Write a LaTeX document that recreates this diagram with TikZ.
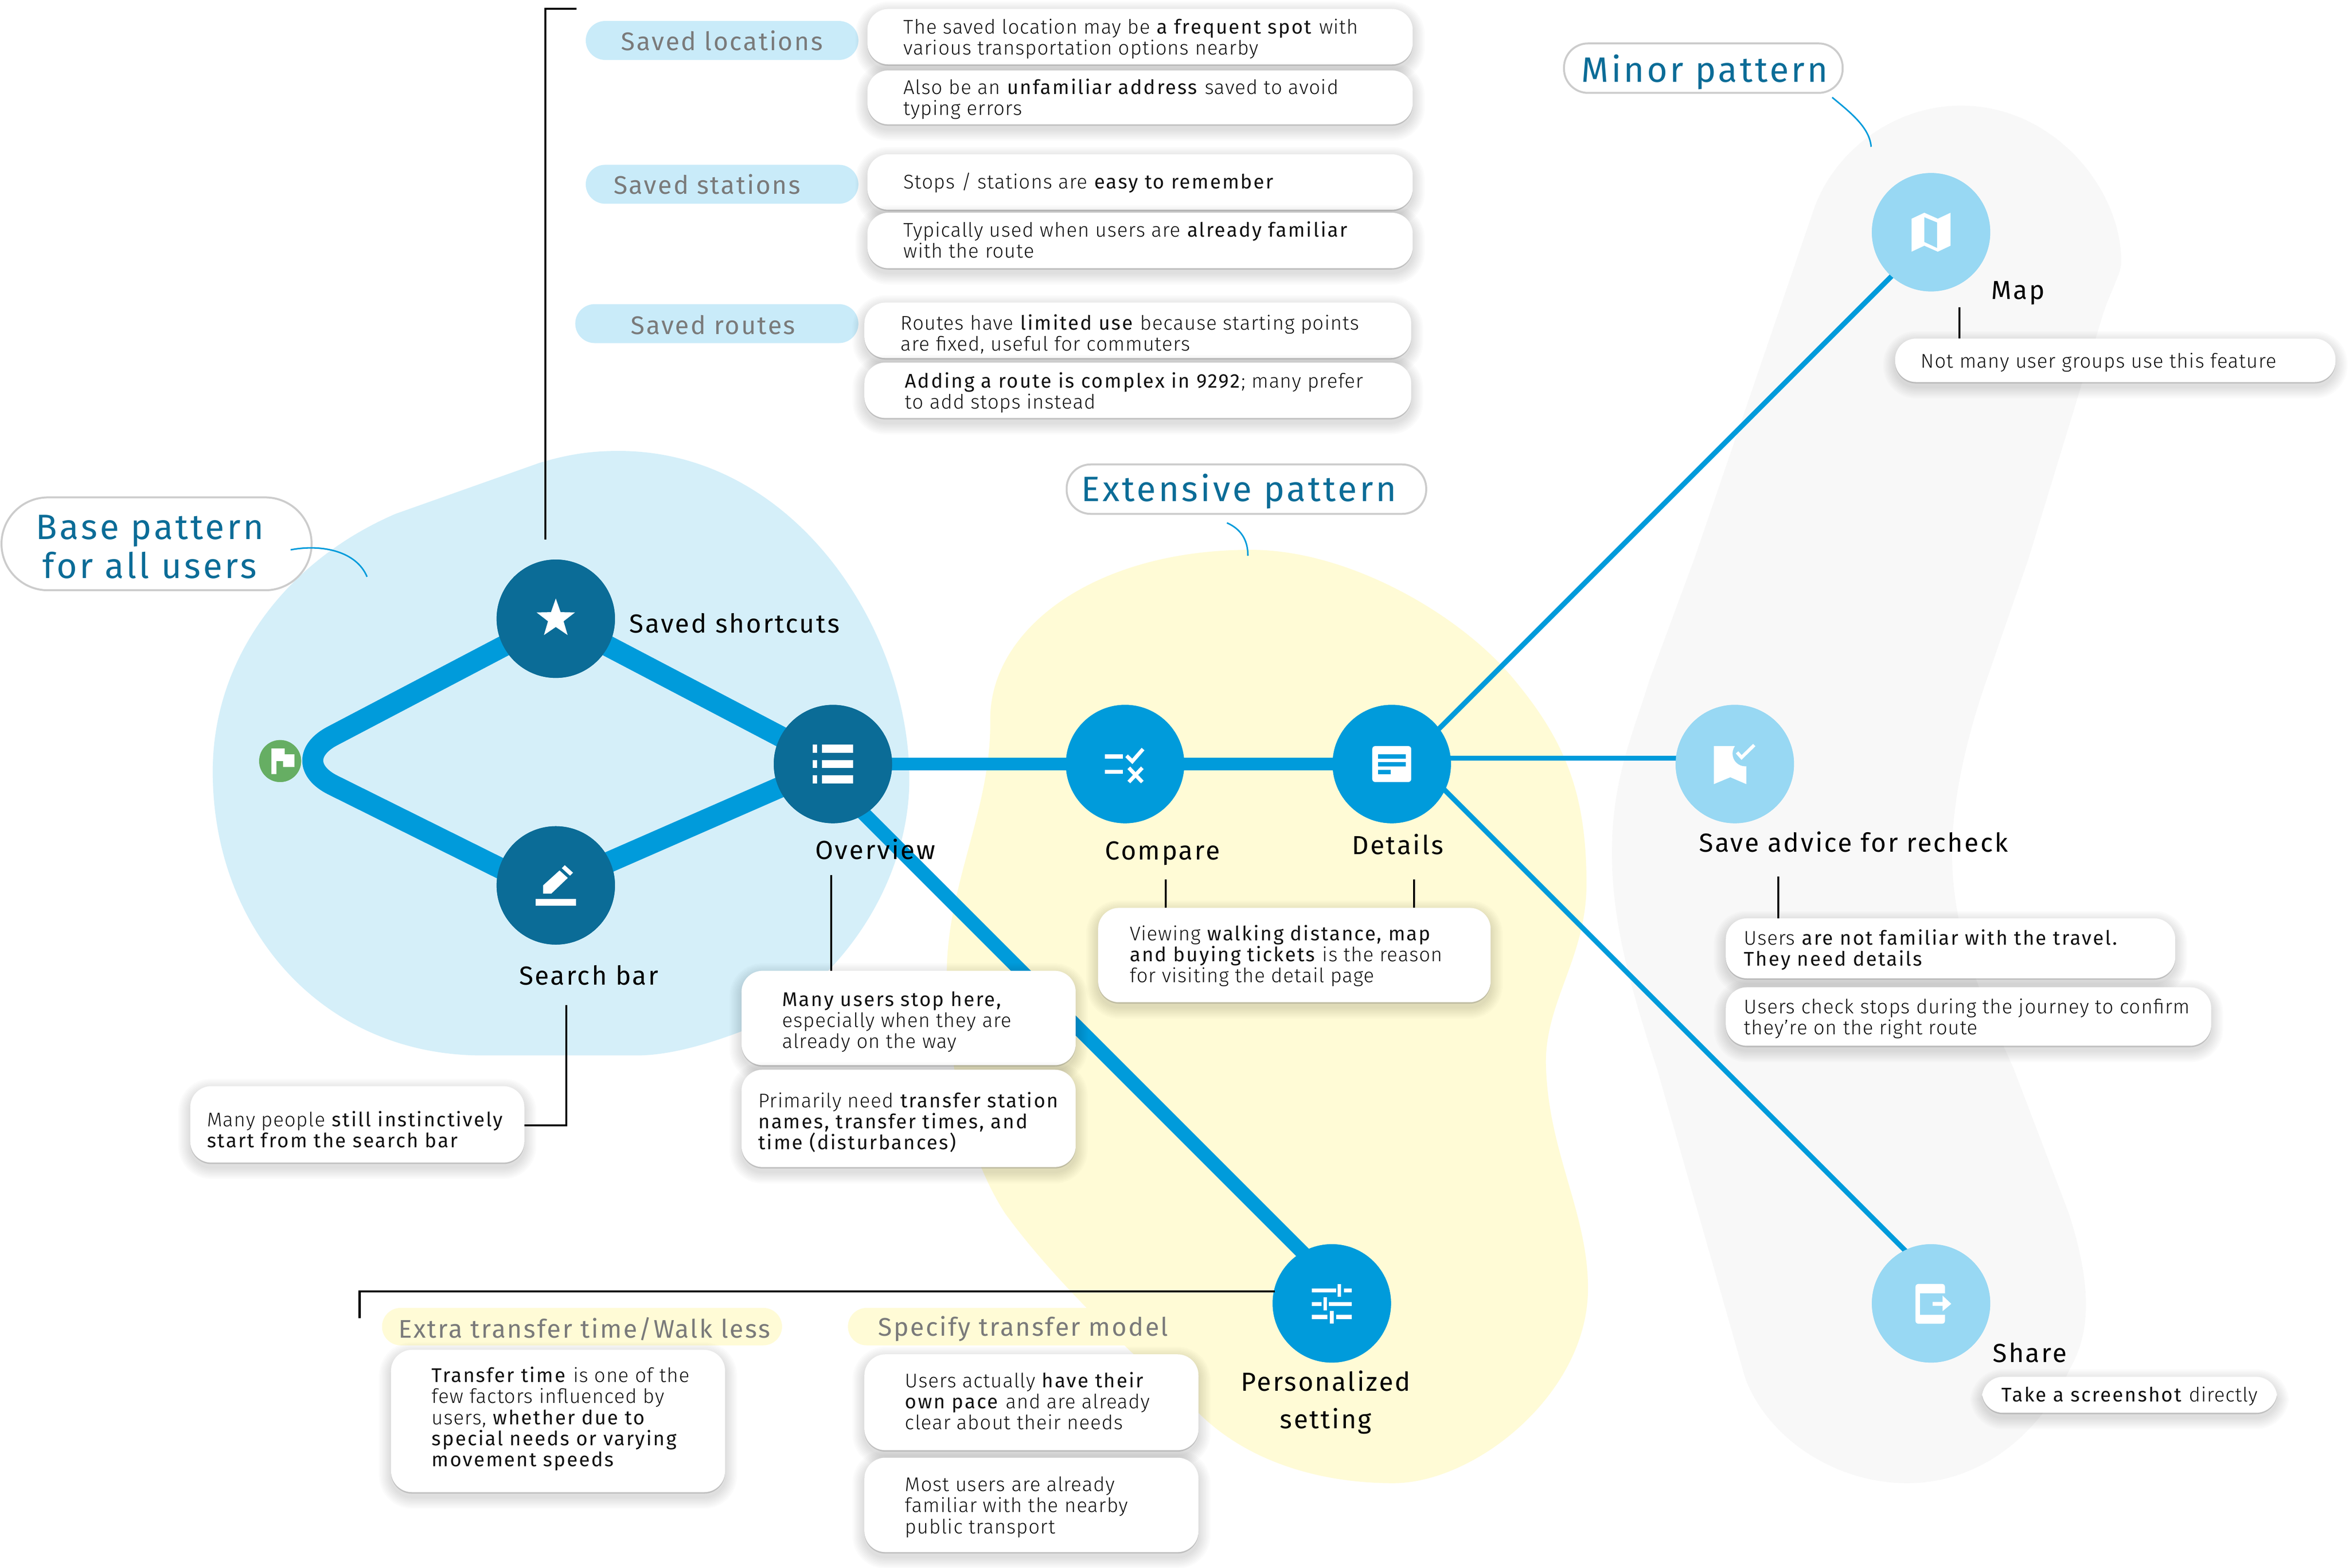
\documentclass[tikz,border=0pt]{standalone}
\usepackage{fontspec}
\setmainfont{Fira Sans Light}[BoldFont={Fira Sans},LetterSpace=3,BoldFeatures={LetterSpace=7}]
\newfontfamily\labfam{Fira Sans}[LetterSpace=6.5]
\newfontfamily\pillfam{Fira Sans}[LetterSpace=6]
\newfontfamily\headfam{Fira Sans}[LetterSpace=7]
\usetikzlibrary{shadows,calc}
\definecolor{cdark}{HTML}{0B6C97}
\definecolor{cblue}{HTML}{009BDB}
\definecolor{clight}{HTML}{98D8F3}
\definecolor{cblob}{HTML}{D5EFF9}
\definecolor{cyel}{HTML}{FFFBD6}
\definecolor{cgray}{HTML}{F8F8F8}
\definecolor{cpill}{HTML}{C9EBF9}
\definecolor{cpilltxt}{HTML}{7A7A7A}
\definecolor{cflag}{HTML}{66AE63}
\definecolor{ctext}{HTML}{111111}
\tikzset{
  x=1pt,y=-1pt,
  bignode/.style={circle,minimum size=79pt,inner sep=0,outer sep=0},
  basenode/.style={bignode,fill=cdark},
  extnode/.style={bignode,fill=cblue},
  minornode/.style={bignode,fill=clight},
  thickline/.style={cblue,line width=14pt},
  midline/.style={cblue,line width=8.5pt},
  thinline/.style={cblue,line width=3.4pt},
  leader/.style={black,line width=1.3pt},
  callcurve/.style={cblue,line width=1pt},
  cardbox/.style={fill=white,inner sep=0,outer sep=0,
    drop shadow={shadow xshift=0pt,shadow yshift=-1pt,opacity=.25,fill=black!60}},
  cardtext/.style={anchor=west,align=left,inner sep=0,text=ctext,font=\fontsize{13.2}{14}\selectfont},
  nodelabel/.style={inner sep=0,text=black,align=center,font=\labfam\fontsize{17.4}{25}\selectfont},
  pillbox/.style={inner sep=0,outer sep=0},
  pilltext/.style={inner sep=0,text=cpilltxt,font=\pillfam\fontsize{17}{20}\selectfont},
  headbox/.style={draw=black!20,line width=1.3pt,fill=white,inner sep=0,outer sep=0},
  headtext/.style={inner sep=0,text=cdark,align=center,font=\headfam\fontsize{23.5}{26}\selectfont},
  ink/.style={fill=white,draw=none},
}
\newcommand\boxat[7]{% style name x1 y1 x2 y2 radius
  \pgfmathsetmacro\bw{#5-#3}\pgfmathsetmacro\bh{#6-#4}%
  \pgfmathsetmacro\bx{(#3+#5)/2}\pgfmathsetmacro\by{(#4+#6)/2}%
  \node[#1,minimum width=\bw pt,minimum height=\bh pt,rounded corners=#7 pt] (#2) at (\bx,\by) {};}
\newcommand\softshade[4]{%
  \foreach \e in {1,...,8}{%
    \fill[black,opacity=.016,rounded corners=14pt+\e pt] (#1-\e,#2-\e+3) rectangle (#3+\e,#4+\e+3);}}
\newcommand\card[8]{\softshade{#2}{#3}{#4}{#5}\boxat{cardbox}{#1}{#2}{#3}{#4}{#5}{14}\node[cardtext] (#1t) at (#6,#7) {#8};}
\begin{document}
\begin{tikzpicture}
\useasboundingbox (0,0) rectangle (1568,1046.6);
\fill[white] (0,0) rectangle (1568,1046.6);
% blobs
\fill[cgray] (1309,70.5) .. controls (1370,70.5) and (1416,125) .. (1416,175)
  .. controls (1416,182) and (1409,194) .. (1404,209) -- (1354,373) -- (1326,454)
  .. controls (1310,500) and (1303,540) .. (1303,569)
  .. controls (1303,620) and (1320,660) .. (1344,713) -- (1381,810)
  .. controls (1397,860) and (1395,890) .. (1382,913)
  .. controls (1360,960) and (1320,990) .. (1273,990)
  .. controls (1225,990) and (1180,960) .. (1165,920) -- (1106,713)
  .. controls (1085,650) and (1076,610) .. (1076,569)
  .. controls (1076,520) and (1090,490) .. (1101,454) -- (1131,373) -- (1211,139)
  .. controls (1225,100) and (1265,70.5) .. (1309,70.5) -- cycle;
\fill[cblob] (360,309) .. controls (380,303) and (395,301) .. (413,301)
  .. controls (530,301) and (607,420) .. (607,520)
  .. controls (607,590) and (560,660) .. (496,688)
  .. controls (470,698) and (445,704.5) .. (425,704.5) -- (322,704.5)
  .. controls (215,704.5) and (142,620) .. (142,515)
  .. controls (142,440) and (190,375) .. (264,343) -- cycle;
\fill[cyel] (835,367) .. controls (900,367) and (975,410) .. (1011,454)
  .. controls (1045,495) and (1059,530) .. (1059,590)
  .. controls (1059,640) and (1030,670) .. (1032,713)
  .. controls (1034,770) and (1060,810) .. (1060,860)
  .. controls (1060,930) and (985,990) .. (930,990)
  .. controls (880,990) and (830,975) .. (797,940)
  .. controls (750,900) and (700,850) .. (671,810)
  .. controls (645,770) and (632,710) .. (632,650)
  .. controls (632,590) and (662,540) .. (661,480)
  .. controls (661,420) and (730,367) .. (835,367) -- cycle;
% process nodes
\node[circle,fill=cflag,minimum size=28pt,inner sep=0] (start) at (187,508) {};
\node[basenode] (saved) at (371,413) {};
\node[basenode] (search) at (371,591) {};
\node[basenode] (overview) at (556,510) {};
\node[extnode] (compare) at (751,510) {};
\node[extnode] (details) at (929,510) {};
\node[extnode] (personal) at (889,870) {};
\node[minornode] (map) at (1289,155) {};
\node[minornode] (save) at (1158,510) {};
\node[minornode] (share) at (1289,870) {};
\coordinate (corner) at (190,508);
% connectors
\draw[thickline,rounded corners=36pt] (saved.center) -- (corner) -- ([yshift=-7pt]search.center);
\draw[thickline] (saved.center) -- (overview.center);
\draw[thickline] (search.center) -- (overview.center);
\draw[midline] (overview.center) -- (details.center);
\draw[cblue,line width=9.5pt] ([xshift=-12.5pt]overview.center) -- ([xshift=14.5pt]personal.center);
\draw[thinline] ([yshift=4pt]details.center) -- ([yshift=4pt]save.center);
\draw[thinline] ([xshift=4pt,yshift=-4pt]details.center) -- ([xshift=1.5pt,yshift=-1.5pt]map.center);
\draw[thinline] ([xshift=9pt,yshift=9pt]details.center) -- ([xshift=9pt,yshift=9pt]share.center);
% redraw nodes above connectors
\node[circle,fill=cflag,minimum size=28pt,inner sep=0] at (start) {};
\node[basenode] at (saved) {};
\node[basenode] at (search) {};
\node[basenode] at (overview) {};
\node[extnode] at (compare) {};
\node[extnode] at (details) {};
\node[extnode] at (personal) {};
\node[minornode] at (map) {};
\node[minornode] at (save) {};
\node[minornode] at (share) {};
% icons
\begin{scope}[shift={(start)}]
  \fill[ink] (-5.8,-8.4) -- (3,-8.4) -- (3,-4.5) -- (9.5,-4.5) -- (9.5,4) -- (2,4) -- (2,0) -- (-2.5,0) -- (-2.5,8.7) -- (-5.8,8.7) -- cycle;
\end{scope}
\begin{scope}[shift={(saved)}]
  \fill[ink] (0,-13.5) -- (3.2,-4.4) -- (12.8,-4.2) -- (5.2,1.7) -- (7.9,10.9) -- (0,5.5) -- (-7.9,10.9) -- (-5.2,1.7) -- (-12.8,-4.2) -- (-3.2,-4.4) -- cycle;
\end{scope}
\begin{scope}[shift={(search)}]
  \fill[ink] (-13.5,9) rectangle (13.5,13.5);
  \fill[ink] (-8.5,5.5) -- (-8.5,0) -- (2.5,-10) -- (8,-5) -- (-3,5.5) -- cycle;
  \fill[ink] (4,-11.5) -- (6,-13.5) -- (11.5,-8.5) -- (9.5,-6.5) -- cycle;
\end{scope}
\begin{scope}[shift={(overview)}]
  \foreach \ya/\yb in {-13/-7.5,-2.7/2.7,7.5/13}{
    \fill[ink] (-13.5,\ya) rectangle (-10.5,\yb);
    \fill[ink] (-7.5,\ya) rectangle (13.5,\yb);}
\end{scope}
\begin{scope}[shift={(compare)}]
  \fill[ink] (-13.5,-6.4) rectangle (-1.5,-3.6);
  \fill[ink] (-13.5,3.8) rectangle (-1.5,6.6);
  \draw[white,line width=2.5pt] (1,-5.5) -- (4.8,-1.8) -- (12,-10);
  \draw[white,line width=2.5pt] (2.5,2.5) -- (11.5,12);
  \draw[white,line width=2.5pt] (11.5,2.5) -- (2.5,12);
\end{scope}
\begin{scope}[shift={(details)}]
  \fill[ink,rounded corners=2pt] (-13,-12) rectangle (13,12);
  \fill[cblue] (-9,-6.6) rectangle (9.4,-3.6);
  \fill[cblue] (-9,-1.4) rectangle (9.4,1.6);
  \fill[cblue] (-9,3.8) rectangle (-0.6,6.8);
\end{scope}
\begin{scope}[shift={(map)}]
  \fill[ink] (-13,-9) -- (-4.5,-13) -- (4.5,-9) -- (13,-13) -- (13,9) -- (4.5,13) -- (-4.5,9) -- (-13,13) -- cycle;
  \fill[clight] (-4.5,-10) -- (4,-6.5) -- (4,10.5) -- (-4.5,6.5) -- cycle;
\end{scope}
\begin{scope}[shift={(save)}]
  \fill[ink] (-14,-12) -- (7.7,-12) -- (7.7,13.4) -- (-3,8.8) -- (-14,13.4) -- cycle;
  \fill[clight] (7,-7) circle (8.5);
  \draw[white,line width=2.2pt] (1.5,-7.8) -- (4.5,-4.4) -- (13,-12.7);
\end{scope}
\begin{scope}[shift={(share)}]
  \fill[ink,rounded corners=2pt] (-10.4,-13) rectangle (9.3,13.6);
  \fill[clight] (-7.4,-6.7) rectangle (9.5,7.7);
  \fill[ink] (1,-1) -- (7.7,-1) -- (7.7,-5.2) -- (13.5,.3) -- (7.7,5.2) -- (7.7,1.6) -- (1,1.6) -- cycle;
\end{scope}
\begin{scope}[shift={(personal)}]
  \draw[white,line width=2.8pt] (-13.3,-8.6) -- (3,-8.6) (8,-8.6) -- (13.3,-8.6);
  \draw[white,line width=2.4pt] (5,-13) -- (5,-4.5);
  \draw[white,line width=2.8pt] (-13.3,.4) -- (-7,.4) (-2,.4) -- (13.3,.4);
  \draw[white,line width=2.4pt] (-4.5,-4) -- (-4.5,4.6);
  \draw[white,line width=2.8pt] (-13.3,9) -- (-3,9) (3,9) -- (13.3,9);
  \draw[white,line width=2.4pt] (0,5) -- (0,13.4);
\end{scope}
% group headers
\boxat{headbox}{hbase}{1}{332}{208}{394}{31}
\node[headtext] (hbaset) at (100,365) {Base pattern\\for all users};
\boxat{headbox}{hext}{712}{310}{952}{343}{16}
\node[headtext] (hextt) at (827,328) {Extensive pattern};
\boxat{headbox}{hmin}{1044}{29}{1230}{62}{16}
\node[headtext] (hmint) at (1138,48) {Minor pattern};
\coordinate (cb) at (245,385);
\coordinate (ce) at (833,371);
\coordinate (cm) at (1249,98);
\draw[callcurve] (194,367) .. controls (215,363) and (238,368) .. (cb);
\draw[callcurve] (819,349) .. controls (828,353) and (833,360) .. (ce);
\draw[callcurve] (1223,65) .. controls (1235,75) and (1248,85) .. (cm);
% leaders (free ends are coordinates)
\coordinate (l1a) at (364,360); \coordinate (l1b) at (364,6); \coordinate (l1c) at (385,6);
\draw[leader] (l1a) -- (l1b) -- (l1c);
\coordinate (l2a) at (555,584); \coordinate (l2b) at (555,648);
\draw[leader] (l2a) -- (l2b);
\coordinate (l3a) at (378,671); \coordinate (l3b) at (378,751); \coordinate (l3c) at (350,751);
\draw[leader] (l3a) -- (l3b) -- (l3c);
\coordinate (l4a) at (778,587); \coordinate (l4b) at (778,606);
\draw[leader] (l4a) -- (l4b);
\coordinate (l5a) at (944,587); \coordinate (l5b) at (944,606);
\draw[leader] (l5a) -- (l5b);
\coordinate (l6a) at (1187,585); \coordinate (l6b) at (1187,613);
\draw[leader] (l6a) -- (l6b);
\coordinate (l7a) at (1308,205); \coordinate (l7b) at (1308,226);
\draw[leader] (l7a) -- (l7b);
\coordinate (l8a) at (851,862); \coordinate (l8b) at (240,862); \coordinate (l8c) at (240,880);
\draw[leader,line width=1.6pt] (l8a) -- (l8b) -- (l8c);
% pills
\boxat{pillbox,fill=cpill}{p1}{391}{14}{573}{40}{13}
\node[pilltext] (p1t) at (482,27) {Saved locations};
\boxat{pillbox,fill=cpill}{p2}{391}{110}{573}{136}{13}
\node[pilltext] (p2t) at (472,123) {Saved stations};
\boxat{pillbox,fill=cpill}{p3}{384}{203}{573}{229}{13}
\node[pilltext] (p3t) at (476,217) {Saved routes};
\boxat{pillbox,fill=cyel}{p4}{255}{873}{522}{898}{12.5}
\node[pilltext] (p4t) at (390,887) {Extra transfer time/Walk less};
\boxat{pillbox,fill=cyel}{p5}{566}{873}{800}{898}{12.5}
\node[pilltext] (p5t) at (683,887) {Specify transfer model};
% cards
\card{c1}{579}{6}{943}{43}{603}{26}{The saved location may be \textbf{a frequent spot} with\\various transportation options nearby}
\card{c2}{579}{47}{943}{83}{603}{66}{Also be an \textbf{unfamiliar address} saved to avoid\\typing errors}
\card{c3}{579}{103}{943}{140}{603}{122}{Stops / stations are \textbf{easy to remember}}
\card{c4}{579}{142}{943}{179}{603}{160}{Typically used when users are \textbf{already familiar}\\with the route}
\card{c5}{577}{202}{942}{239}{601}{223}{Routes have \textbf{limited use} because starting points\\are fixed, useful for commuters}
\card{c6}{577}{242}{942}{279}{604}{262}{\textbf{Adding a route is complex in 9292}; many prefer\\to add stops instead}
\card{c7}{495}{648}{718}{711}{522}{682}{\textbf{Many users stop here,}\\especially when they are\\already on the way}
\card{c8}{495}{714}{718}{779}{506}{749}{Primarily need \textbf{transfer station}\\\textbf{names, transfer times, and}\\\textbf{time (disturbances)}}
\card{c9}{127}{725}{350}{776}{138}{754}{Many people \textbf{still instinctively}\\\textbf{start from the search bar}}
\card{c10}{733}{606}{995}{669}{754}{638}{Viewing \textbf{walking distance, map}\\\textbf{and buying tickets} is the reason\\for visiting the detail page}
\card{c11}{1265}{226}{1559}{255}{1282}{242}{Not many user groups use this feature}
\card{c12}{1152}{613}{1452}{653}{1164}{634}{Users \textbf{are not familiar with the travel.}\\\textbf{They need details}}
\card{c13}{1152}{659}{1476}{698}{1164}{680}{Users check stops during the journey to confirm\\they’re on the right route}
\card{c14}{1323}{919}{1520}{943}{1336}{932}{\textbf{Take a screenshot} directly}
\card{c15}{261}{901}{484}{996}{288}{947}{\textbf{Transfer time} is one of the\\few factors influenced by\\users, \textbf{whether due to}\\\textbf{special needs or varying}\\\textbf{movement speeds}}
\card{c16}{577}{904}{800}{968}{604}{935}{Users actually \textbf{have their}\\\textbf{own pace} and are already\\clear about their needs}
\card{c17}{577}{973}{800}{1036}{604}{1006}{Most users are already\\familiar with the nearby\\public transport}
% node labels
\node[nodelabel,anchor=west] (lsaved) at (420,416) {Saved shortcuts};
\node[nodelabel,anchor=west] (lover) at (544,567) {Overview};
\node[nodelabel] (lsearch) at (393,651) {Search bar};
\node[nodelabel] (lcomp) at (776,569.5) {Compare};
\node[nodelabel] (ldet) at (933,563.5) {Details};
\node[nodelabel,anchor=west] (lmap) at (1329,195.5) {Map};
\node[nodelabel,anchor=west] (lsave) at (1134,562) {Save advice for recheck};
\node[nodelabel] (lpers) at (885,936) {Personalized\\setting};
\node[nodelabel,anchor=west] (lshare) at (1330,903) {Share};
\end{tikzpicture}
\end{document}
